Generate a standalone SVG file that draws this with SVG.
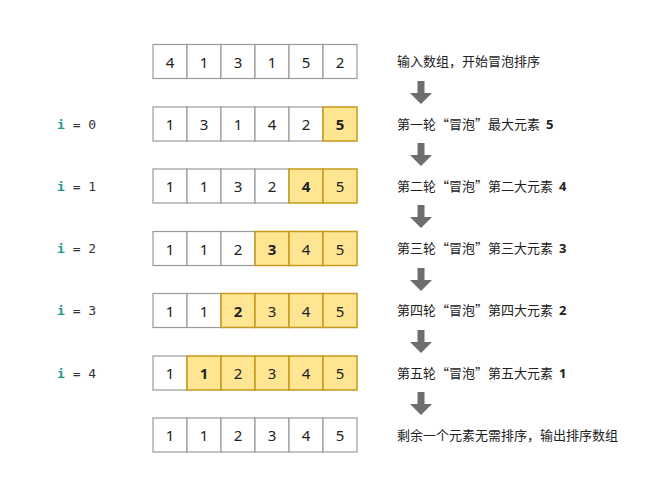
<svg xmlns="http://www.w3.org/2000/svg" width="666" height="500" viewBox="0 0 666 500">
<defs>
<style>
.c{fill:#ffffff;stroke:#9a9a9a;stroke-width:1.2}
.y{fill:#fde592;stroke:#c49a1c;stroke-width:1.5}
.n{font-family:"Noto Sans","Liberation Sans",sans-serif;font-size:15px;fill:#222;text-anchor:middle;dominant-baseline:central}
.b{font-weight:bold}
.t{font-family:"Noto Sans CJK SC",sans-serif;font-size:13px;fill:#222}
.m{font-family:"DejaVu Sans Mono","Liberation Mono",monospace;font-size:13px;fill:#333}
.i{fill:#1a9a8a;font-weight:bold}
.a{fill:#6e6e6e}
.k{font-family:"Noto Sans",sans-serif;font-weight:bold}
</style>
<path id="arr" d="M-3.5,0 H3.5 V12 H11 L0,23 L-11,12 H-3.5 Z"/>
</defs>
<rect width="666" height="500" fill="#ffffff"/>

<g id="row0">
<rect class="c" x="153" y="44.5" width="34" height="34"/><text class="n" x="170" y="61.5">4</text>
<rect class="c" x="187" y="44.5" width="34" height="34"/><text class="n" x="204" y="61.5">1</text>
<rect class="c" x="221" y="44.5" width="34" height="34"/><text class="n" x="238" y="61.5">3</text>
<rect class="c" x="255" y="44.5" width="34" height="34"/><text class="n" x="272" y="61.5">1</text>
<rect class="c" x="289" y="44.5" width="34" height="34"/><text class="n" x="306" y="61.5">5</text>
<rect class="c" x="323" y="44.5" width="34" height="34"/><text class="n" x="340" y="61.5">2</text>
</g>

<g id="row1">
<text class="m" x="57" y="129"><tspan class="i">i</tspan> = 0</text>
<rect class="c" x="153" y="107" width="34" height="34"/><text class="n" x="170" y="124">1</text>
<rect class="c" x="187" y="107" width="34" height="34"/><text class="n" x="204" y="124">3</text>
<rect class="c" x="221" y="107" width="34" height="34"/><text class="n" x="238" y="124">1</text>
<rect class="c" x="255" y="107" width="34" height="34"/><text class="n" x="272" y="124">4</text>
<rect class="c" x="289" y="107" width="34" height="34"/><text class="n" x="306" y="124">2</text>
<rect class="y" x="323" y="107" width="34" height="34"/><text class="n b" x="340" y="124">5</text>
</g>

<g id="row2">
<text class="m" x="57" y="191"><tspan class="i">i</tspan> = 1</text>
<rect class="c" x="153" y="169" width="34" height="34"/><text class="n" x="170" y="186">1</text>
<rect class="c" x="187" y="169" width="34" height="34"/><text class="n" x="204" y="186">1</text>
<rect class="c" x="221" y="169" width="34" height="34"/><text class="n" x="238" y="186">3</text>
<rect class="c" x="255" y="169" width="34" height="34"/><text class="n" x="272" y="186">2</text>
<rect class="y" x="289" y="169" width="34" height="34"/><text class="n b" x="306" y="186">4</text>
<rect class="y" x="323" y="169" width="34" height="34"/><text class="n" x="340" y="186">5</text>
</g>

<g id="row3">
<text class="m" x="57" y="253"><tspan class="i">i</tspan> = 2</text>
<rect class="c" x="153" y="231.5" width="34" height="34"/><text class="n" x="170" y="248.5">1</text>
<rect class="c" x="187" y="231.5" width="34" height="34"/><text class="n" x="204" y="248.5">1</text>
<rect class="c" x="221" y="231.5" width="34" height="34"/><text class="n" x="238" y="248.5">2</text>
<rect class="y" x="255" y="231.5" width="34" height="34"/><text class="n b" x="272" y="248.5">3</text>
<rect class="y" x="289" y="231.5" width="34" height="34"/><text class="n" x="306" y="248.5">4</text>
<rect class="y" x="323" y="231.5" width="34" height="34"/><text class="n" x="340" y="248.5">5</text>
</g>

<g id="row4">
<text class="m" x="57" y="315"><tspan class="i">i</tspan> = 3</text>
<rect class="c" x="153" y="293.5" width="34" height="34"/><text class="n" x="170" y="310.5">1</text>
<rect class="c" x="187" y="293.5" width="34" height="34"/><text class="n" x="204" y="310.5">1</text>
<rect class="y" x="221" y="293.5" width="34" height="34"/><text class="n b" x="238" y="310.5">2</text>
<rect class="y" x="255" y="293.5" width="34" height="34"/><text class="n" x="272" y="310.5">3</text>
<rect class="y" x="289" y="293.5" width="34" height="34"/><text class="n" x="306" y="310.5">4</text>
<rect class="y" x="323" y="293.5" width="34" height="34"/><text class="n" x="340" y="310.5">5</text>
</g>

<g id="row5">
<text class="m" x="57" y="378"><tspan class="i">i</tspan> = 4</text>
<rect class="c" x="153" y="356" width="34" height="34"/><text class="n" x="170" y="373">1</text>
<rect class="y" x="187" y="356" width="34" height="34"/><text class="n b" x="204" y="373">1</text>
<rect class="y" x="221" y="356" width="34" height="34"/><text class="n" x="238" y="373">2</text>
<rect class="y" x="255" y="356" width="34" height="34"/><text class="n" x="272" y="373">3</text>
<rect class="y" x="289" y="356" width="34" height="34"/><text class="n" x="306" y="373">4</text>
<rect class="y" x="323" y="356" width="34" height="34"/><text class="n" x="340" y="373">5</text>
</g>

<g id="row6">
<rect class="c" x="153" y="418" width="34" height="34"/><text class="n" x="170" y="435">1</text>
<rect class="c" x="187" y="418" width="34" height="34"/><text class="n" x="204" y="435">1</text>
<rect class="c" x="221" y="418" width="34" height="34"/><text class="n" x="238" y="435">2</text>
<rect class="c" x="255" y="418" width="34" height="34"/><text class="n" x="272" y="435">3</text>
<rect class="c" x="289" y="418" width="34" height="34"/><text class="n" x="306" y="435">4</text>
<rect class="c" x="323" y="418" width="34" height="34"/><text class="n" x="340" y="435">5</text>
</g>

<g id="labels">
<text class="t" x="397" y="66">输入数组，开始冒泡排序</text>
<text class="t" x="397" y="129">第一轮“冒泡”最大元素 <tspan class="k" dx="3">5</tspan></text>
<text class="t" x="397" y="191">第二轮“冒泡”第二大元素 <tspan class="k" dx="3">4</tspan></text>
<text class="t" x="397" y="253">第三轮“冒泡”第三大元素 <tspan class="k" dx="3">3</tspan></text>
<text class="t" x="397" y="315">第四轮“冒泡”第四大元素 <tspan class="k" dx="3">2</tspan></text>
<text class="t" x="397" y="378">第五轮“冒泡”第五大元素 <tspan class="k" dx="3">1</tspan></text>
<text class="t" x="397" y="440">剩余一个元素无需排序，输出排序数组</text>
</g>

<g id="connectors" class="a">
<use href="#arr" x="421" y="81"/>
<use href="#arr" x="421" y="143"/>
<use href="#arr" x="421" y="205"/>
<use href="#arr" x="421" y="268"/>
<use href="#arr" x="421" y="330"/>
<use href="#arr" x="421" y="392"/>
</g>
</svg>
